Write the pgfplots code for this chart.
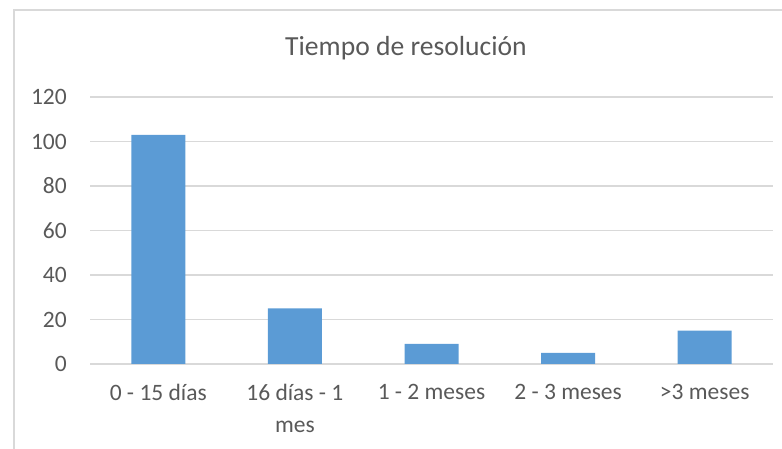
\documentclass[border=0pt]{standalone}
\usepackage{fontspec}
\setmainfont{Carlito}
\usepackage{pgfplots}
\pgfplotsset{compat=1.18}

\definecolor{barblue}{HTML}{5B9BD5}
\definecolor{gridgray}{HTML}{D9D9D9}
\definecolor{textgray}{HTML}{595959}

\begin{document}
\begin{tikzpicture}[x=1pt,y=1pt]
\useasboundingbox (0,0) rectangle (782,449);
% chart frame (cut off at right and bottom)
\begin{scope}
  \clip (0,0) rectangle (782,449);
  \draw[gridgray, line width=1.5pt] (14,-10) -- (14,439) -- (800,439);
\end{scope}
\node[anchor=base, text=textgray, inner sep=0pt,
      font=\fontsize{27.6}{33}\selectfont] at (406,393) {Tiempo de resolución};

\begin{axis}[
  at={(90pt,85pt)}, anchor=south west,
  scale only axis, width=683pt, height=267pt,
  ybar, bar width=54pt,
  xmin=-0.5, xmax=4.5, ymin=0, ymax=120,
  xtick=data,
  xticklabels={0 - 15 días, {16 días - 1\\mes}, 1 - 2 meses, 2 - 3 meses, >3 meses},
  ytick={0,20,40,60,80,100,120},
  yticklabels={0,20,40,60,80,100,120},
  major tick length=0pt,
  axis line style={draw=none},
  ymajorgrids,
  grid style={gridgray, line width=1.5pt},
  tick label style={text=textgray, font=\fontsize{23.5}{31.5}\selectfont, inner sep=0pt},
  xticklabel style={align=center, anchor=north, yshift=-20pt},
  yticklabel style={anchor=east, xshift=-23pt},
]
\addplot[draw=none, fill=barblue] coordinates {
  (0,103)
  (1,25)
  (2,9)
  (3,5)
  (4,15)
};
\end{axis}
\end{tikzpicture}
\end{document}
